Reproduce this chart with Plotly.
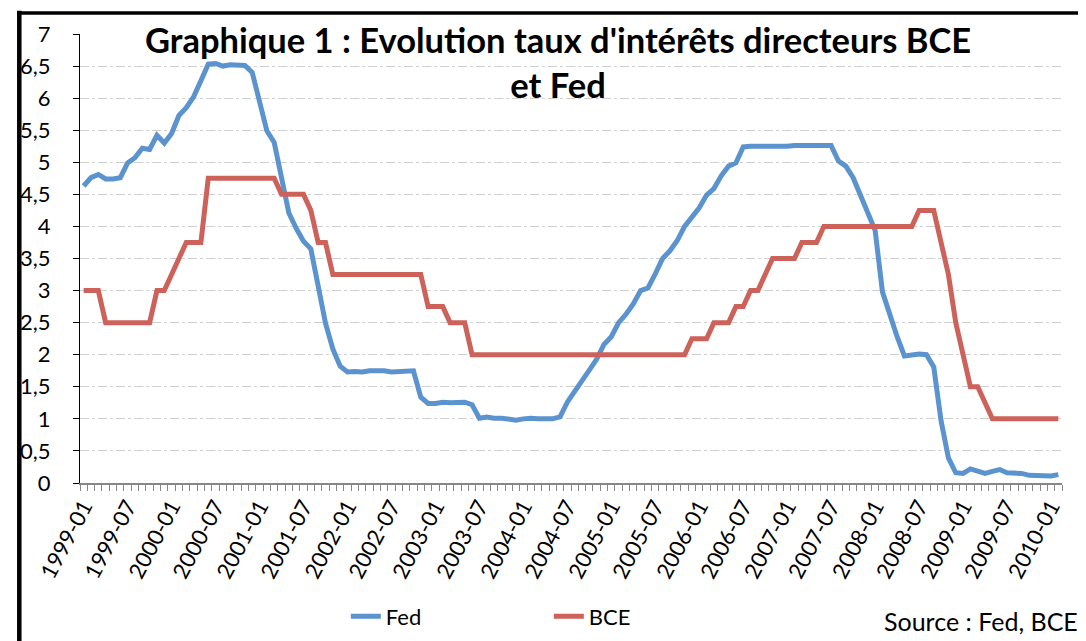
import plotly.graph_objects as go

# Monthly categories 1999-01 .. 2010-02
months = [f"{y}-{m:02d}" for y in range(1999, 2011) for m in range(1, 13)][:134]
tick_labels = [m if (i % 6 == 0) else "" for i, m in enumerate(months)]

fed = [
    4.63, 4.76, 4.81, 4.74, 4.74, 4.76, 4.99, 5.07, 5.22, 5.20, 5.42, 5.30,   # 1999
    5.45, 5.73, 5.85, 6.02, 6.27, 6.53, 6.54, 6.50, 6.52, 6.51, 6.51, 6.40,   # 2000
    5.98, 5.49, 5.31, 4.80, 4.21, 3.97, 3.77, 3.65, 3.07, 2.49, 2.09, 1.82,   # 2001
    1.73, 1.74, 1.73, 1.75, 1.75, 1.75, 1.73, 1.74, 1.75, 1.75, 1.34, 1.24,   # 2002
    1.24, 1.26, 1.25, 1.26, 1.26, 1.22, 1.01, 1.03, 1.01, 1.01, 1.00, 0.98,   # 2003
    1.00, 1.01, 1.00, 1.00, 1.00, 1.03, 1.26, 1.43, 1.61, 1.76, 1.93, 2.16,   # 2004
    2.28, 2.50, 2.63, 2.79, 3.00, 3.04, 3.26, 3.50, 3.62, 3.78, 4.00, 4.16,   # 2005
    4.29, 4.49, 4.59, 4.79, 4.94, 4.99, 5.24, 5.25, 5.25, 5.25, 5.25, 5.24,   # 2006
    5.25, 5.26, 5.26, 5.25, 5.25, 5.25, 5.26, 5.02, 4.94, 4.76, 4.49, 4.24,   # 2007
    3.94, 2.98, 2.61, 2.28, 1.98, 2.00, 2.01, 2.00, 1.81, 0.97, 0.39, 0.16,   # 2008
    0.15, 0.22, 0.18, 0.15, 0.18, 0.21, 0.16, 0.16, 0.15, 0.12, 0.12, 0.12,   # 2009
    0.11, 0.13,                                                               # 2010
]

bce = [
    3.0, 3.0, 3.0, 2.5, 2.5, 2.5, 2.5, 2.5, 2.5, 2.5, 3.0, 3.0,               # 1999
    3.25, 3.5, 3.75, 3.75, 3.75, 4.75, 4.75, 4.75, 4.75, 4.75, 4.75, 4.75,    # 2000
    4.75, 4.75, 4.75, 4.5, 4.5, 4.5, 4.5, 4.25, 3.75, 3.75, 3.25, 3.25,       # 2001
    3.25, 3.25, 3.25, 3.25, 3.25, 3.25, 3.25, 3.25, 3.25, 3.25, 3.25, 2.75,   # 2002
    2.75, 2.75, 2.5, 2.5, 2.5, 2.0, 2.0, 2.0, 2.0, 2.0, 2.0, 2.0,             # 2003
    2.0, 2.0, 2.0, 2.0, 2.0, 2.0, 2.0, 2.0, 2.0, 2.0, 2.0, 2.0,               # 2004
    2.0, 2.0, 2.0, 2.0, 2.0, 2.0, 2.0, 2.0, 2.0, 2.0, 2.0, 2.25,              # 2005
    2.25, 2.25, 2.5, 2.5, 2.5, 2.75, 2.75, 3.0, 3.0, 3.25, 3.5, 3.5,          # 2006
    3.5, 3.5, 3.75, 3.75, 3.75, 4.0, 4.0, 4.0, 4.0, 4.0, 4.0, 4.0,            # 2007
    4.0, 4.0, 4.0, 4.0, 4.0, 4.0, 4.25, 4.25, 4.25, 3.75, 3.25, 2.5,          # 2008
    2.0, 1.5, 1.5, 1.25, 1.0, 1.0, 1.0, 1.0, 1.0, 1.0, 1.0, 1.0,              # 2009
    1.0, 1.0,                                                                 # 2010
]

FONT = "Lato, 'Open Sans', sans-serif"
W, H = 1086, 641
OFF = 8  # page offset of the figure (default body margin)
# target page-pixel geometry of the plot area
PL, PR, PT, PB = 72, 1062, 33, 487
L, T = PL - OFF, PT - OFF
R = W - (PR - OFF)
B = H - (PB - OFF)
pw, ph = PR - PL, PB - PT

def px_x(x):  # page pixel -> paper x
    return (x - PL) / pw

def px_y(y):  # page pixel -> paper y
    return (PB - y) / ph

fig = go.Figure()
fig.add_trace(go.Scatter(x=months, y=fed, mode="lines", name="Fed",
                         line=dict(color="#5B93CF", width=5)))
fig.add_trace(go.Scatter(x=months, y=bce, mode="lines", name="BCE",
                         line=dict(color="#CD625A", width=5)))

fig.update_layout(
    width=W, height=H,
    margin=dict(l=L, r=R, t=T, b=B),
    paper_bgcolor="white", plot_bgcolor="white",
    separators=", ",
    font=dict(family=FONT, size=22, color="black"),
    showlegend=True,
    legend=dict(orientation="h", x=px_x(340), xanchor="left",
                y=px_y(622), yanchor="middle",
                font=dict(family=FONT, size=22, color="black"),
                entrywidth=158, bgcolor="rgba(0,0,0,0)"),
    xaxis=dict(
        type="category", categoryorder="array", categoryarray=months,
        range=[-0.5, len(months) - 0.5],
        tickmode="array", tickvals=months, ticktext=tick_labels,
        tickson="boundaries", ticks="outside", ticklen=6, tickwidth=1,
        tickcolor="#868686", tickangle=-62,
        showline=True, linecolor="#868686", linewidth=2,
        showgrid=False, zeroline=False,
        tickfont=dict(family=FONT, size=22, color="black"),
    ),
    yaxis=dict(
        range=[0, 7], dtick=0.5, tick0=0,
        ticks="outside", ticklen=6, tickcolor="black", tickwidth=1,
        showline=True, linecolor="black", linewidth=1,
        showgrid=True, gridcolor="#cfcfcf", griddash="dashdot", gridwidth=1,
        zeroline=False, ticklabelstandoff=18,
        tickfont=dict(family=FONT, size=22, color="black"),
    ),
)

fig.add_annotation(
    text="<b>Graphique 1 : Evolution taux d'intérêts directeurs BCE<br>et Fed</b>",
    xref="paper", yref="paper", x=px_x(554), y=px_y(16),
    xanchor="center", yanchor="top", showarrow=False, align="center",
    font=dict(family=FONT, size=34.5, color="black"))

fig.add_annotation(text="Source : Fed, BCE", xref="paper", yref="paper",
                   x=px_x(1080), y=px_y(627), xanchor="right", yanchor="middle",
                   showarrow=False, font=dict(family=FONT, size=25, color="black"))

# outer chart frame (only left and top edges are visible in the crop)
fig.add_shape(type="line", xref="paper", yref="paper",
              x0=px_x(10.8), x1=px_x(10.8), y0=px_y(9.5), y1=px_y(700),
              line=dict(color="black", width=4.5), layer="above")
fig.add_shape(type="line", xref="paper", yref="paper",
              x0=px_x(8.5), x1=px_x(1120), y0=px_y(11.7), y1=px_y(11.7),
              line=dict(color="black", width=3.5), layer="above")

fig.write_html("out.html")
